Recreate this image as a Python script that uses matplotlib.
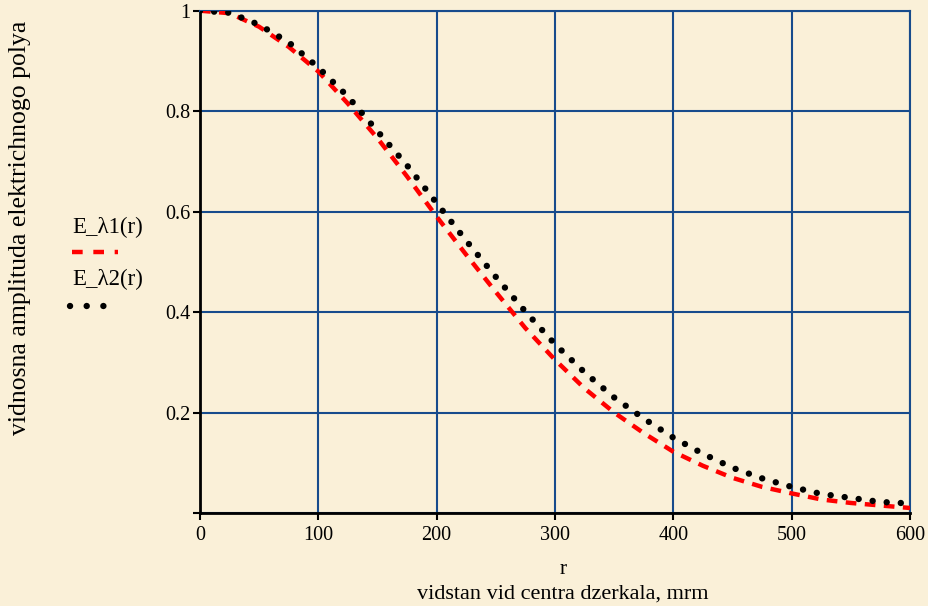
import matplotlib
matplotlib.use("Agg")
import matplotlib.pyplot as plt
from matplotlib.lines import Line2D

# r values (sample points)
r = [0, 25, 50, 75, 100, 125, 150, 175, 200, 225, 250, 275, 300,
     325, 350, 375, 400, 425, 450, 475, 500, 525, 550, 575, 600]

# E_lambda1(r) - red dashed curve
e_l1 = [1.0, 0.995, 0.968, 0.928, 0.879, 0.815, 0.746, 0.670, 0.590,
        0.514, 0.440, 0.368, 0.305, 0.248, 0.200, 0.159, 0.122, 0.094,
        0.070, 0.052, 0.039, 0.027, 0.020, 0.015, 0.010]

# E_lambda2(r) - black dotted curve
e_l2 = [1.0, 0.996, 0.972, 0.937, 0.887, 0.829, 0.760, 0.692, 0.617,
        0.542, 0.470, 0.401, 0.336, 0.280, 0.230, 0.188, 0.150, 0.118,
        0.090, 0.069, 0.052, 0.038, 0.030, 0.022, 0.019]

x_ticks = [0, 100, 200, 300, 400, 500, 600]
y_ticks = [0, 0.2, 0.4, 0.6, 0.8, 1.0]
y_tick_labels = ["", "0.2", "0.4", "0.6", "0.8", "1"]

bg = "#faf0d8"
grid_blue = "#174b8c"
red = "#ff0000"

plt.rcParams["font.family"] = ["Liberation Serif", "DejaVu Serif"]

W, H = 929, 606
fig = plt.figure(figsize=(W / 100, H / 100), dpi=100, facecolor=bg)
ax = fig.add_axes([200 / W, 1 - 513 / H, 710 / W, (513 - 10.7) / H])
ax.set_facecolor(bg)

ax.plot(r, e_l1, color=red, lw=3.2, linestyle=(0, (2.4, 1.9)),
        dash_capstyle="butt", zorder=3)
ax.plot(r, e_l2, color="black", lw=4.6, linestyle=(0, (0.01, 2.2)),
        dash_capstyle="round", zorder=4)

ax.set_xlim(0, 600)
ax.set_ylim(0, 1)
ax.set_xticks(x_ticks)
ax.set_xticklabels([str(v) for v in x_ticks])
ax.set_yticks(y_ticks)
ax.set_yticklabels(y_tick_labels)
ax.grid(True, color=grid_blue, lw=1.5)
ax.set_axisbelow(True)

for side in ["top", "right"]:
    ax.spines[side].set_color(grid_blue)
    ax.spines[side].set_linewidth(1.5)
for side in ["left", "bottom"]:
    ax.spines[side].set_color("black")
    ax.spines[side].set_linewidth(2)

ax.tick_params(axis="both", direction="out", length=5, width=1.5,
               color="black", labelsize=14.5)
ax.tick_params(axis="x", pad=4)
ax.tick_params(axis="y", pad=2)

# axis titles
fig.text(20 / W, 1 - 228 / H, "vidnosna amplituda elektrichnogo polya",
         rotation=90, ha="center", va="center", fontsize=18.5)
fig.text(563 / W, 1 - 569 / H, "r", ha="center", va="center", fontsize=15.5)
fig.text(563 / W, 1 - 594 / H, "vidstan vid centra dzerkala, mrm",
         ha="center", va="center", fontsize=16)

# legend (Mathcad style: name above the line sample)
fig.text(72 / W, 1 - 227 / H, "E_\u03bb1(r)", ha="left", va="center", fontsize=16.5)
fig.text(72 / W, 1 - 279 / H, "E_\u03bb2(r)", ha="left", va="center", fontsize=16.5)
fig.add_artist(Line2D([72 / W, 118 / W], [1 - 252 / H, 1 - 252 / H],
                      transform=fig.transFigure, color=red, lw=3.2,
                      linestyle=(0, (2.4, 2.4))))
fig.add_artist(Line2D([70 / W, 106 / W], [1 - 306 / H, 1 - 306 / H],
                      transform=fig.transFigure, color="black", lw=4.6,
                      linestyle=(0, (0.01, 2.6)), dash_capstyle="round"))

fig.savefig("out.png", dpi=100, facecolor=bg)
